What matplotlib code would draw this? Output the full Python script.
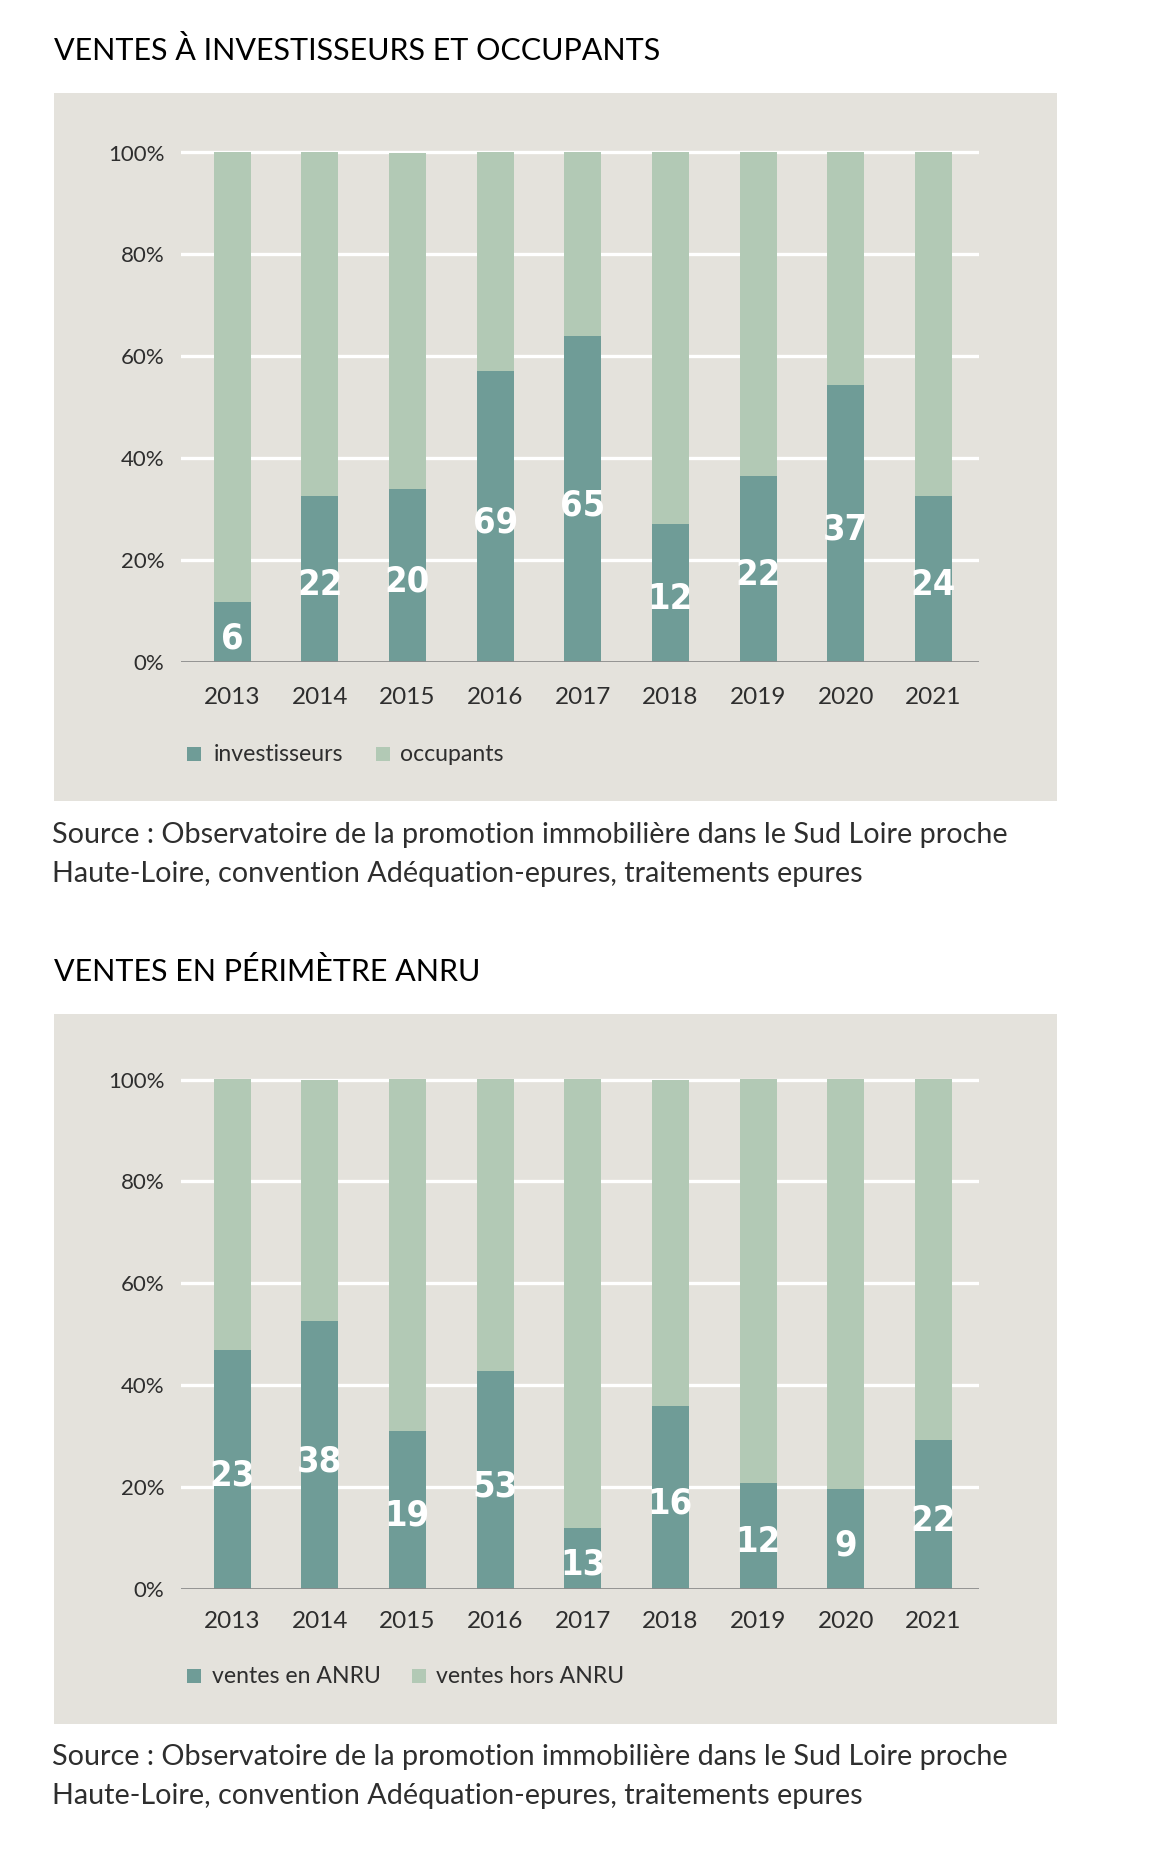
import matplotlib
matplotlib.use('Agg')
from matplotlib import pyplot as plt
from matplotlib.patches import Rectangle

# data
years = ['2013', '2014', '2015', '2016', '2017', '2018', '2019', '2020', '2021']

# chart 1 : share (%) of sales to investors, and counts shown on bars
inv_share = [11.8, 32.5, 33.9, 57.1, 63.9, 27.0, 36.6, 54.3, 32.5]
inv_count = [6, 22, 20, 69, 65, 12, 22, 37, 24]

# chart 2 : share (%) of sales inside ANRU perimeter, and counts
anru_share = [47.0, 52.6, 31.1, 42.8, 11.9, 36.0, 20.8, 19.6, 29.2]
anru_count = [23, 38, 19, 53, 13, 16, 12, 9, 22]

titles = ['VENTES À INVESTISSEURS ET OCCUPANTS', 'VENTES EN PÉRIMÈTRE ANRU']
legends = [['investisseurs', 'occupants'], ['ventes en ANRU', 'ventes hors ANRU']]
source = ['Source : Observatoire de la promotion immobilière dans le Sud Loire proche',
          'Haute-Loire, convention Adéquation-epures, traitements epures']

DARK = '#6f9c97'
LIGHT = '#b2c9b5'
PANEL = '#e4e2dc'
TXT = '#2e2e2e'

W, H = 1168, 1867
plt.rcParams['font.family'] = ['Lato', 'DejaVu Sans']
fig = plt.figure(figsize=(W / 100, H / 100), dpi=100)
fig.patch.set_facecolor('white')


def fx(x):
    return x / W


def fy(y):
    return 1 - y / H


def draw_chart(top, shift, shift2, xpad, share, count, title, leg, panel_h):
    # top = pixel offset of this block
    # shift = extra offset of the axes, shift2 = extra offset of legend/source
    fig.text(fx(54), fy(top + 50), title, fontsize=22, color='black',
             ha='left', va='center')
    fig.patches.append(Rectangle((fx(54), fy(top + 93 + panel_h)), fx(1057 - 54),
                                 panel_h / H, transform=fig.transFigure,
                                 facecolor=PANEL, edgecolor='none', zorder=-10))

    y100 = top + shift + 152.5
    y0 = top + shift + 662
    unit = (y0 - y100) / 100
    ax_top = y100 - 2 * unit
    ax = fig.add_axes([fx(181), fy(y0), fx(979 - 181), (y0 - ax_top) / H])
    ax.set_facecolor('none')
    ax.set_xlim(-0.584, 8.52)
    ax.set_ylim(0, 102)

    x = list(range(len(years)))
    rest = [100 - v for v in share]
    ax.bar(x, share, width=0.42, color=DARK, zorder=3)
    ax.bar(x, rest, bottom=share, width=0.42, color=LIGHT, zorder=3)
    for xi, v, c in zip(x, share, count):
        ax.text(xi, v / 2 - 1.2, str(c), ha='center', va='center',
                color='white', fontsize=26, fontweight='bold',
                family=['DejaVu Sans'], fontstretch='condensed', zorder=4)

    for g in [20, 40, 60, 80, 100]:
        ax.axhline(g, color='white', lw=2.4, zorder=1)
    ax.axhline(0, color='#8c8c8c', lw=2, zorder=5)

    for s in ax.spines.values():
        s.set_visible(False)
    ax.set_xticks(x)
    ax.set_xticklabels(years, fontsize=17.5, color=TXT)
    ax.set_yticks([0, 20, 40, 60, 80, 100])
    ax.set_yticklabels(['0%', '20%', '40%', '60%', '80%', '100%'],
                       fontsize=16, color=TXT)
    ax.tick_params(axis='x', length=0, pad=xpad)
    ax.tick_params(axis='y', length=0, pad=12)

    # legend drawn by hand
    ly = top + shift2 + 754
    if leg[0] == 'investisseurs':
        pos = [(187, 214), (376, 400)]
    else:
        pos = [(187, 212), (412, 436)]
    for (sx, tx), lab, col in zip(pos, leg, [DARK, LIGHT]):
        fig.patches.append(Rectangle((fx(sx), fy(ly + 7)), fx(14), 14 / H,
                                     transform=fig.transFigure,
                                     facecolor=col, edgecolor='none'))
        fig.text(fx(tx), fy(ly), lab, fontsize=16.6, color=TXT,
                 ha='left', va='center')

    fig.text(fx(52), fy(top + shift2 + 835), source[0], fontsize=20.7, color=TXT,
             ha='left', va='center')
    fig.text(fx(52), fy(top + shift2 + 874), source[1], fontsize=20.7, color=TXT,
             ha='left', va='center')


draw_chart(0, 0, 0, 18, inv_share, inv_count, titles[0], legends[0], 708)
draw_chart(921, 6, 1, 16, anru_share, anru_count, titles[1], legends[1], 710)

plt.savefig('out.png', dpi=100)
plt.close()
